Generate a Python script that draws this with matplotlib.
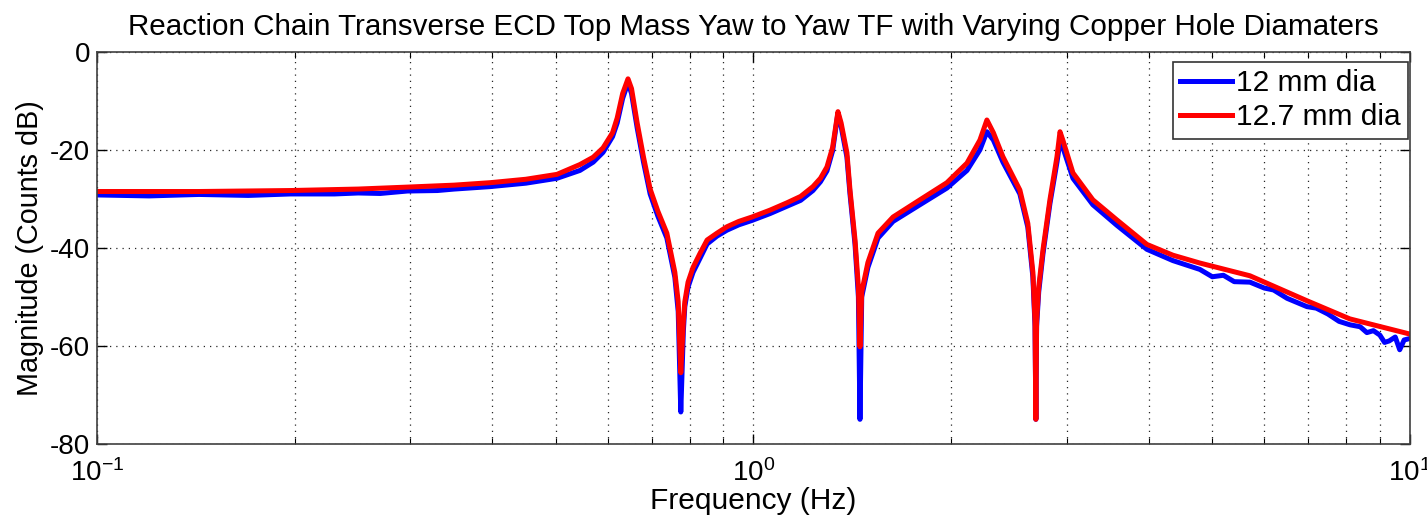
import matplotlib
matplotlib.use("Agg")
import matplotlib.pyplot as plt
import numpy as np

plt.rcParams["font.family"] = ["Liberation Sans", "DejaVu Sans"]
plt.rcParams["axes.unicode_minus"] = False

# measured yaw->yaw transfer function, 12 mm copper holes
freq_12 = [0.100, 0.120, 0.143, 0.170, 0.197, 0.230, 0.250, 0.270, 0.297, 0.330,
           0.350, 0.397, 0.450, 0.502, 0.544, 0.570, 0.590, 0.610, 0.620, 0.632,
           0.644, 0.652, 0.665, 0.680, 0.696, 0.715, 0.738, 0.759, 0.768, 0.775,
           0.782, 0.786, 0.795, 0.809, 0.830, 0.850, 0.880, 0.911, 0.950, 0.995,
           1.060, 1.125, 1.180, 1.232, 1.265, 1.294, 1.320, 1.345, 1.360, 1.388,
           1.403, 1.428, 1.445, 1.453, 1.462, 1.494, 1.548, 1.632, 1.793, 1.971,
           2.115, 2.213, 2.268, 2.320, 2.399, 2.546, 2.618, 2.665, 2.685, 2.693,
           2.700, 2.720, 2.761, 2.829, 2.900, 2.931, 2.960, 3.067, 3.289, 3.578,
           3.975, 4.355, 4.787, 5.000, 5.200, 5.400, 5.706, 6.000, 6.200, 6.500,
           6.970, 7.200, 7.500, 7.800, 8.101, 8.400, 8.600, 8.800, 9.000, 9.150,
           9.300, 9.500, 9.650, 9.800, 10.00]
mag_12 = [-29.2, -29.4, -29.1, -29.3, -29.0, -29.0, -28.8, -28.9, -28.4, -28.3,
          -28.0, -27.5, -26.8, -25.8, -24.2, -22.5, -20.5, -17.3, -14.5, -9.5,
          -6.3, -8.5, -15.5, -22.5, -29.0, -33.5, -38.0, -46.0, -53.0, -73.5,
          -57.0, -52.0, -48.0, -45.0, -42.0, -39.2, -37.6, -36.4, -35.3, -34.4,
          -33.0, -31.5, -30.3, -28.3, -26.5, -24.3, -20.2, -12.5, -15.2, -21.5,
          -29.0, -39.3, -50.0, -75.0, -50.0, -44.0, -38.0, -34.6, -31.2, -27.8,
          -24.2, -20.0, -16.3, -18.0, -22.5, -29.0, -35.8, -46.0, -56.0, -75.0,
          -56.0, -49.0, -41.2, -31.0, -22.5, -18.3, -19.5, -25.8, -31.2, -35.4,
          -40.3, -42.6, -44.4, -45.9, -45.6, -46.9, -47.0, -48.2, -48.6, -50.3,
          -52.0, -52.3, -53.5, -55.0, -55.7, -56.1, -57.3, -56.9, -57.8, -59.3,
          -59.0, -58.2, -60.8, -58.8, -58.5]

# same measurement, 12.7 mm copper holes
freq_127 = [0.100, 0.143, 0.197, 0.250, 0.297, 0.350, 0.397, 0.450, 0.502, 0.544,
            0.570, 0.590, 0.610, 0.620, 0.632, 0.644, 0.652, 0.665, 0.680, 0.696,
            0.715, 0.738, 0.759, 0.768, 0.775, 0.782, 0.786, 0.795, 0.809, 0.830,
            0.850, 0.880, 0.911, 0.950, 0.995, 1.060, 1.125, 1.180, 1.232, 1.265,
            1.294, 1.320, 1.345, 1.360, 1.388, 1.403, 1.428, 1.445, 1.453, 1.462,
            1.494, 1.548, 1.632, 1.793, 1.971, 2.115, 2.213, 2.268, 2.320, 2.399,
            2.546, 2.618, 2.665, 2.685, 2.693, 2.700, 2.720, 2.761, 2.829, 2.900,
            2.931, 2.960, 3.067, 3.289, 3.578, 3.975, 4.355, 4.787, 5.706, 6.970,
            8.101, 10.00]
mag_127 = [-28.5, -28.5, -28.3, -28.0, -27.6, -27.2, -26.7, -26.0, -25.0, -23.0,
           -21.5, -19.6, -16.5, -13.5, -8.5, -5.5, -7.5, -14.5, -21.5, -28.0,
           -32.5, -37.0, -45.0, -51.0, -65.5, -55.0, -51.0, -47.0, -44.0, -41.0,
           -38.4, -37.0, -35.7, -34.6, -33.7, -32.3, -30.8, -29.5, -27.5, -25.8,
           -23.5, -19.5, -12.2, -14.5, -20.6, -28.2, -38.4, -48.0, -60.2, -49.0,
           -43.0, -37.0, -33.7, -30.2, -26.7, -22.7, -18.0, -13.9, -16.5, -21.4,
           -28.2, -35.0, -45.0, -55.0, -75.0, -55.0, -48.0, -40.4, -30.2, -21.4,
           -16.3, -18.0, -24.7, -30.2, -34.3, -39.3, -41.5, -43.1, -45.7, -50.8,
           -54.5, -57.6]

labels = ["12 mm dia", "12.7 mm dia"]

fig = plt.figure(figsize=(14.27, 5.24), dpi=100)
ax = fig.add_axes([0.068, 0.153, 0.920, 0.748])

ax.semilogx(freq_12, mag_12, color="#0000ff", lw=3.6, label=labels[0])
ax.semilogx(freq_127, mag_127, color="#ff0000", lw=3.6, label=labels[1])

ax.set_xlim(0.1, 10)
ax.set_ylim(-80, 0)
ax.set_yticks([0, -20, -40, -60, -80])
ax.set_xticks([0.1, 1, 10])
ax.set_xticklabels([r"$\mathregular{10^{-1}}$", r"$\mathregular{10^{0}}$",
                    r"$\mathregular{10^{1}}$"])
ax.xaxis.set_minor_locator(matplotlib.ticker.LogLocator(base=10, subs=np.arange(2, 10)))
ax.xaxis.set_minor_formatter(matplotlib.ticker.NullFormatter())

# matlab style: inward ticks on all four sides, dotted grid
ax.tick_params(which="both", direction="in", top=True, right=True, labelsize=20)
ax.tick_params(axis="x", pad=11)
ax.tick_params(axis="y", pad=5)
ax.tick_params(which="major", length=7, width=1)
ax.tick_params(which="minor", length=4, width=0.8)
ax.grid(True, which="both", linestyle=(0, (1, 4)), color="0.15", lw=0.9)
for s in ax.spines.values():
    s.set_linewidth(1.2)
    s.set_color("0.25")

ax.set_title("Reaction Chain Transverse ECD Top Mass Yaw to Yaw TF with Varying Copper Hole Diamaters",
             fontsize=21.3, pad=12)
ax.set_xlabel("Frequency (Hz)", fontsize=21.5, labelpad=0)
ax.set_ylabel("Magnitude (Counts dB)", fontsize=20.7, labelpad=4)

leg = ax.legend(loc="upper right", bbox_to_anchor=(0.9985, 0.975), fontsize=21.5,
                fancybox=False, edgecolor="0.2", framealpha=1, handlelength=1.75,
                handletextpad=0.12, borderpad=0.25, labelspacing=0.2, borderaxespad=0)
leg.get_frame().set_linewidth(1.2)

fig.savefig("out.png", dpi=100)
